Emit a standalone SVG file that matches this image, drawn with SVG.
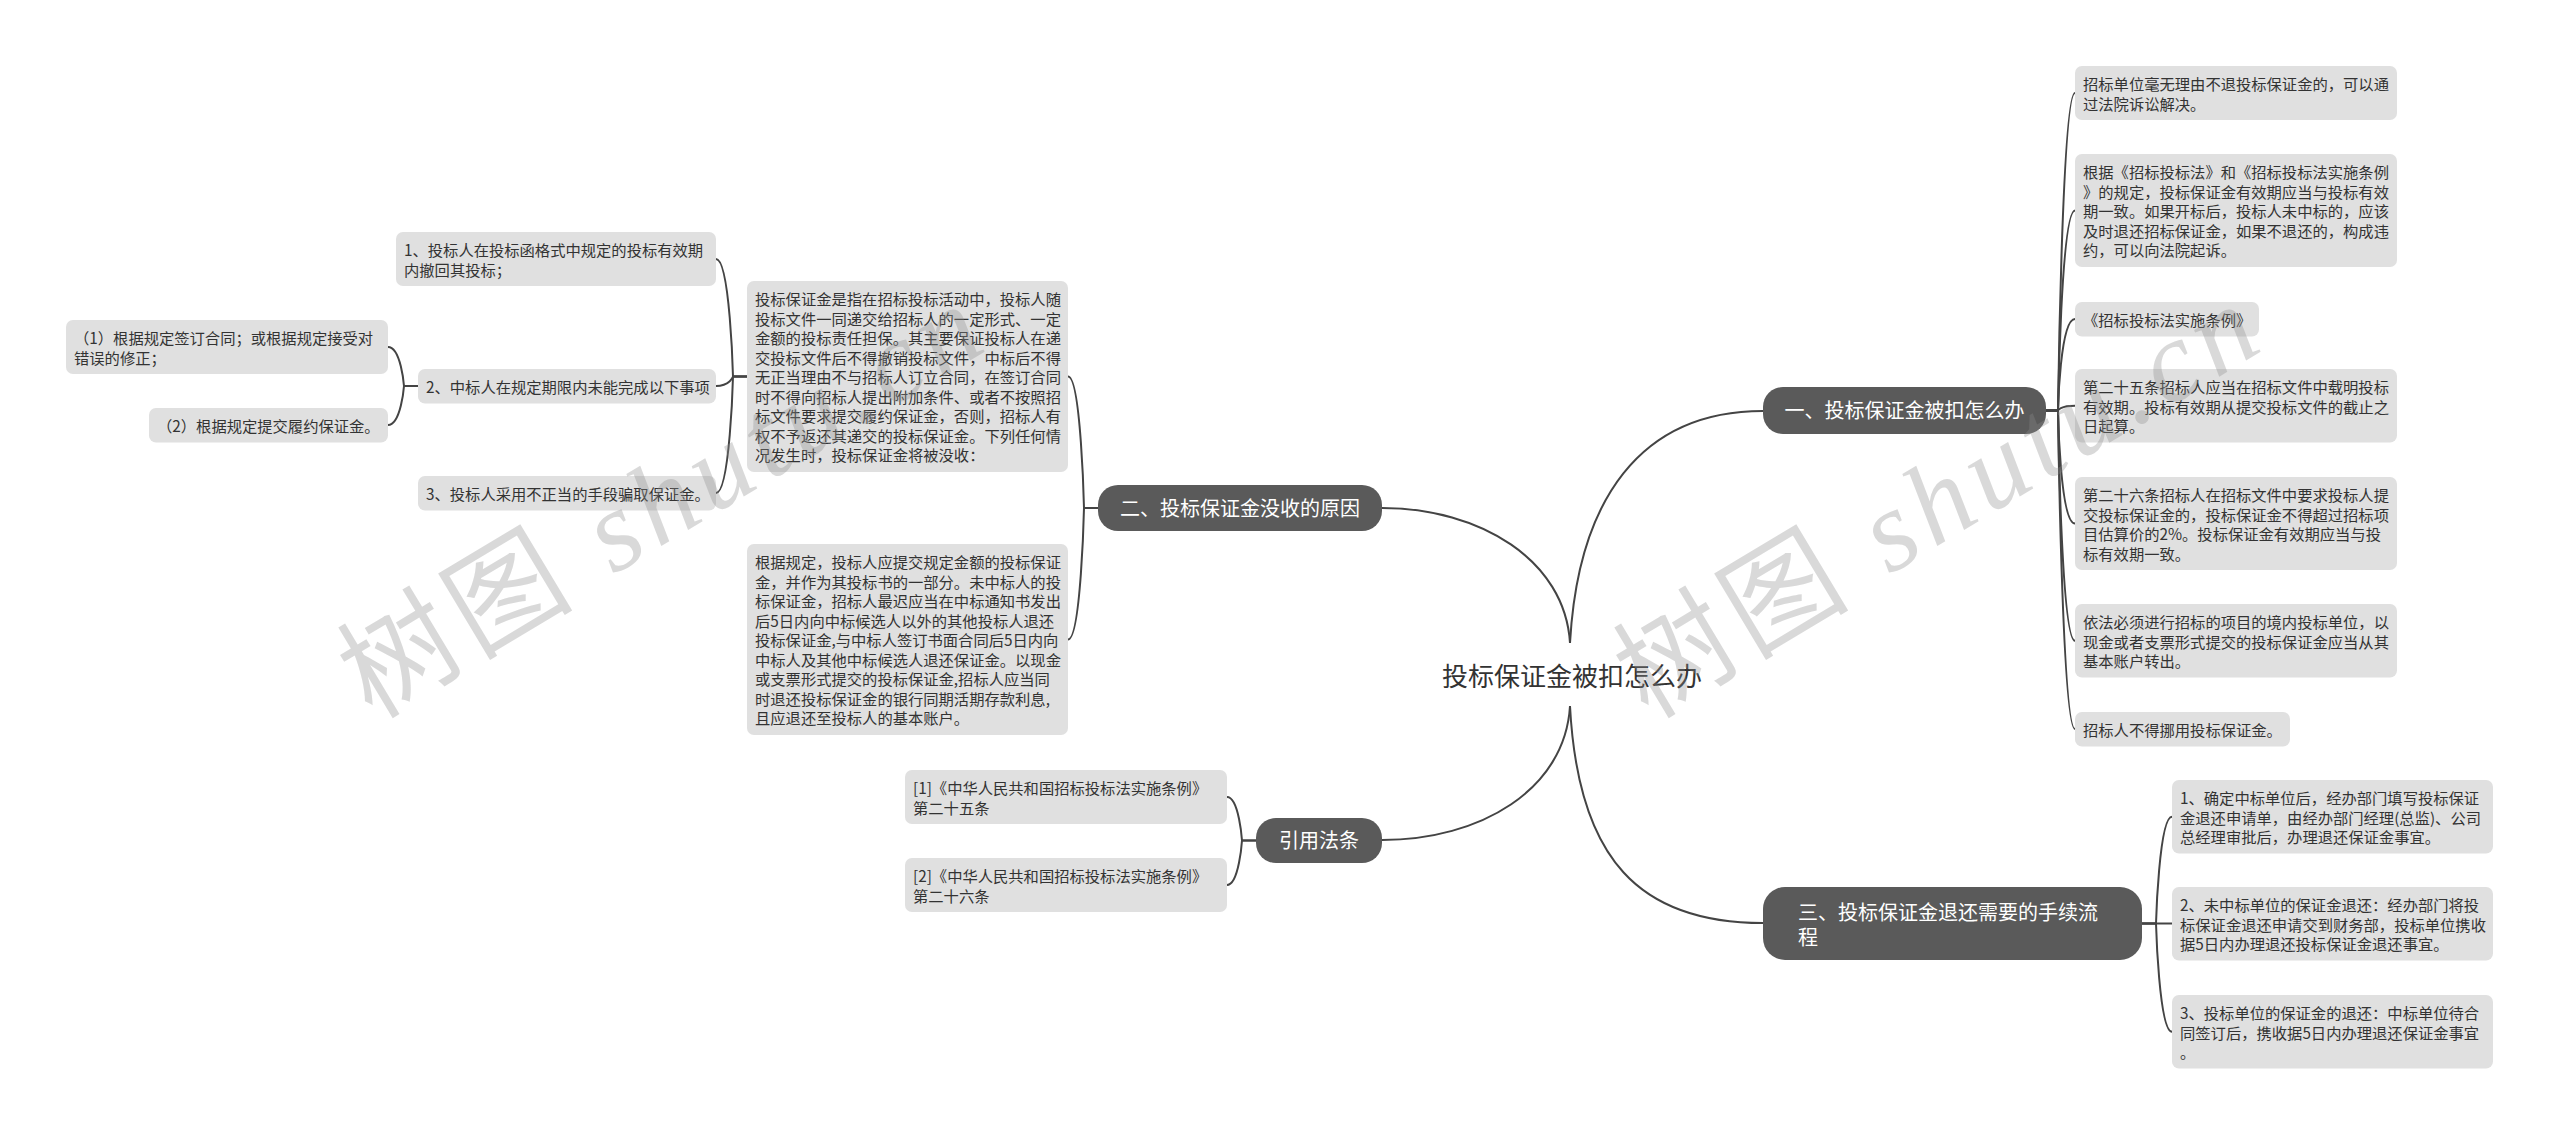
<svg xmlns="http://www.w3.org/2000/svg" width="2560" height="1135" viewBox="0 0 2560 1135">
<style>
.leaf rect{fill:#e0e0e0;}
.leaf text{font-family:"Noto Sans CJK SC","Liberation Sans",sans-serif;font-size:15.3px;fill:#333;}
.main rect{fill:#5a5a5a;}
.main text{font-family:"Noto Sans CJK SC","Liberation Sans",sans-serif;font-size:20px;fill:#fff;}
.root text{font-family:"Noto Sans CJK SC","Liberation Sans",sans-serif;font-size:26px;fill:#333;}
#connectors path{fill:none;stroke:#444;stroke-width:2;}
.wm{font-family:"Liberation Serif","Noto Sans CJK SC",serif;font-size:115px;fill:#8c8c8c;fill-opacity:0.33;}
.wm .lat{font-style:italic;}
</style>
<rect x="0" y="0" width="2560" height="1135" fill="#fff"/>

<g id="connectors">
<path d="M1570,643 C1578,500 1640,411 1763,411"/>
<path d="M1570,643 C1565,560 1480,508 1382,508"/>
<path d="M1570,706 C1565,790 1480,840 1382,840"/>
<path d="M1570,706 C1578,860 1640,923 1763,923"/>
<path d="M2046,410.5 H2058 C2058,410.5 2062,93 2075,93"/>
<path d="M2046,410.5 H2058 C2058,410.5 2061,210.5 2075,210.5"/>
<path d="M2046,410.5 H2058 C2058,410.5 2060,319 2075,319"/>
<path d="M2046,410.5 H2058 C2058,410.5 2060,405.75 2075,405.75"/>
<path d="M2046,410.5 H2058 C2058,410.5 2060,523.5 2075,523.5"/>
<path d="M2046,410.5 H2058 C2058,410.5 2061,640.75 2075,640.75"/>
<path d="M2046,410.5 H2058 C2058,410.5 2062,729 2075,729"/>
<path d="M2142,923.5 H2156 C2156,923.5 2159,816.75 2172,816.75"/>
<path d="M2142,923.5 H2172"/>
<path d="M2142,923.5 H2156 C2156,923.5 2159,1031.75 2172,1031.75"/>
<path d="M1098,508 H1084 C1084,508 1081,376.5 1068,376.5"/>
<path d="M1098,508 H1084 C1084,508 1081,639.5 1068,639.5"/>
<path d="M747,376.5 H733 C733,376.5 730,259 716,259"/>
<path d="M747,376.5 H733 C733,376.5 730,386 716,386"/>
<path d="M747,376.5 H733 C733,376.5 730,493 716,493"/>
<path d="M418,386 H404 C404,386 401,347 388,347"/>
<path d="M418,386 H404 C404,386 401,425 388,425"/>
<path d="M1256,840.5 H1242 C1242,840.5 1239,797 1227,797"/>
<path d="M1256,840.5 H1242 C1242,840.5 1239,885 1227,885"/>
</g>

<g id="root" class="root">
<text x="1572" y="686" text-anchor="middle">投标保证金被扣怎么办</text>
</g>

<g id="branch1" class="main">
<rect x="1763" y="387" width="283" height="47" rx="20"/>
<text x="1904.5" y="418" text-anchor="middle">一、投标保证金被扣怎么办</text>
</g>
<g id="branch2" class="main">
<rect x="1098" y="485" width="284" height="46" rx="20"/>
<text x="1240" y="515.5" text-anchor="middle">二、投标保证金没收的原因</text>
</g>
<g id="branch-cite" class="main">
<rect x="1256" y="818" width="126" height="45" rx="20"/>
<text x="1319" y="848" text-anchor="middle">引用法条</text>
</g>
<g id="branch3" class="main">
<rect x="1763" y="887" width="379" height="73" rx="22"/>
<text x="1798" y="919.5">三、投标保证金退还需要的手续流</text>
<text x="1798" y="945">程</text>
</g>

<g id="r-a" class="leaf">
<rect x="2075" y="66" width="322" height="54" rx="7"/>
<text x="2083" y="90">招标单位毫无理由不退投标保证金的，可以通</text>
<text x="2083" y="109.5">过法院诉讼解决。</text>
</g>
<g id="r-b" class="leaf">
<rect x="2075" y="154" width="322" height="113" rx="7"/>
<text x="2083" y="178">根据《招标投标法》和《招标投标法实施条例</text>
<text x="2083" y="197.5">》的规定，投标保证金有效期应当与投标有效</text>
<text x="2083" y="217">期一致。如果开标后，投标人未中标的，应该</text>
<text x="2083" y="236.5">及时退还招标保证金，如果不退还的，构成违</text>
<text x="2083" y="256">约，可以向法院起诉。</text>
</g>
<g id="r-c" class="leaf">
<rect x="2075" y="302" width="184" height="34.5" rx="7"/>
<text x="2083" y="326">《招标投标法实施条例》</text>
</g>
<g id="r-d" class="leaf">
<rect x="2075" y="369" width="322" height="73.5" rx="7"/>
<text x="2083" y="393">第二十五条招标人应当在招标文件中载明投标</text>
<text x="2083" y="412.5">有效期。投标有效期从提交投标文件的截止之</text>
<text x="2083" y="432">日起算。</text>
</g>
<g id="r-e" class="leaf">
<rect x="2075" y="477" width="322" height="93" rx="7"/>
<text x="2083" y="501">第二十六条招标人在招标文件中要求投标人提</text>
<text x="2083" y="520.5">交投标保证金的，投标保证金不得超过招标项</text>
<text x="2083" y="540">目估算价的2%。投标保证金有效期应当与投</text>
<text x="2083" y="559.5">标有效期一致。</text>
</g>
<g id="r-f" class="leaf">
<rect x="2075" y="604" width="322" height="73.5" rx="7"/>
<text x="2083" y="628">依法必须进行招标的项目的境内投标单位，以</text>
<text x="2083" y="647.5">现金或者支票形式提交的投标保证金应当从其</text>
<text x="2083" y="667">基本账户转出。</text>
</g>
<g id="r-g" class="leaf">
<rect x="2075" y="712" width="215" height="34.5" rx="7"/>
<text x="2083" y="736">招标人不得挪用投标保证金。</text>
</g>

<g id="s-1" class="leaf">
<rect x="2172" y="780" width="321" height="73.5" rx="7"/>
<text x="2180" y="804">1、确定中标单位后，经办部门填写投标保证</text>
<text x="2180" y="823.5">金退还申请单，由经办部门经理(总监)、公司</text>
<text x="2180" y="843">总经理审批后，办理退还保证金事宜。</text>
</g>
<g id="s-2" class="leaf">
<rect x="2172" y="887" width="321" height="73.5" rx="7"/>
<text x="2180" y="911">2、未中标单位的保证金退还：经办部门将投</text>
<text x="2180" y="930.5">标保证金退还申请交到财务部，投标单位携收</text>
<text x="2180" y="950">据5日内办理退还投标保证金退还事宜。</text>
</g>
<g id="s-3" class="leaf">
<rect x="2172" y="995" width="321" height="73.5" rx="7"/>
<text x="2180" y="1019">3、投标单位的保证金的退还：中标单位待合</text>
<text x="2180" y="1038.5">同签订后，携收据5日内办理退还保证金事宜</text>
<text x="2180" y="1058">。</text>
</g>

<g id="m-1" class="leaf">
<rect x="747" y="281" width="321" height="191" rx="7"/>
<text x="755" y="305">投标保证金是指在招标投标活动中，投标人随</text>
<text x="755" y="324.5">投标文件一同递交给招标人的一定形式、一定</text>
<text x="755" y="344">金额的投标责任担保。其主要保证投标人在递</text>
<text x="755" y="363.5">交投标文件后不得撤销投标文件，中标后不得</text>
<text x="755" y="383">无正当理由不与招标人订立合同，在签订合同</text>
<text x="755" y="402.5">时不得向招标人提出附加条件、或者不按照招</text>
<text x="755" y="422">标文件要求提交履约保证金，否则，招标人有</text>
<text x="755" y="441.5">权不予返还其递交的投标保证金。下列任何情</text>
<text x="755" y="461">况发生时，投标保证金将被没收：</text>
</g>
<g id="m-2" class="leaf">
<rect x="747" y="544" width="321" height="191" rx="7"/>
<text x="755" y="568">根据规定，投标人应提交规定金额的投标保证</text>
<text x="755" y="587.5">金，并作为其投标书的一部分。未中标人的投</text>
<text x="755" y="607">标保证金，招标人最迟应当在中标通知书发出</text>
<text x="755" y="626.5">后5日内向中标候选人以外的其他投标人退还</text>
<text x="755" y="646">投标保证金,与中标人签订书面合同后5日内向</text>
<text x="755" y="665.5">中标人及其他中标候选人退还保证金。以现金</text>
<text x="755" y="685">或支票形式提交的投标保证金,招标人应当同</text>
<text x="755" y="704.5">时退还投标保证金的银行同期活期存款利息,</text>
<text x="755" y="724">且应退还至投标人的基本账户。</text>
</g>
<g id="l-1" class="leaf">
<rect x="396" y="232" width="320" height="54" rx="7"/>
<text x="404" y="256">1、投标人在投标函格式中规定的投标有效期</text>
<text x="404" y="275.5">内撤回其投标；</text>
</g>
<g id="l-2" class="leaf">
<rect x="418" y="369" width="298" height="34.5" rx="7"/>
<text x="426" y="393">2、中标人在规定期限内未能完成以下事项</text>
</g>
<g id="l-3" class="leaf">
<rect x="418" y="476" width="298" height="34.5" rx="7"/>
<text x="426" y="500">3、投标人采用不正当的手段骗取保证金。</text>
</g>
<g id="l-2a" class="leaf">
<rect x="66" y="320" width="322" height="54" rx="7"/>
<text x="74" y="344">（1）根据规定签订合同；或根据规定接受对</text>
<text x="74" y="363.5">错误的修正；</text>
</g>
<g id="l-2b" class="leaf">
<rect x="149" y="408" width="239" height="34.5" rx="7"/>
<text x="157" y="432">（2）根据规定提交履约保证金。</text>
</g>

<g id="c-1" class="leaf">
<rect x="905" y="770" width="322" height="54" rx="7"/>
<text x="913" y="794">[1]《中华人民共和国招标投标法实施条例》</text>
<text x="913" y="813.5">第二十五条</text>
</g>
<g id="c-2" class="leaf">
<rect x="905" y="858" width="322" height="54" rx="7"/>
<text x="913" y="882">[2]《中华人民共和国招标投标法实施条例》</text>
<text x="913" y="901.5">第二十六条</text>
</g>

<g id="watermarks">
<text class="wm" transform="translate(372,720) rotate(-31)" textLength="720" lengthAdjust="spacing">树图 <tspan class="lat">shutu.cn</tspan></text>
<text class="wm" transform="translate(1648,720) rotate(-31)" textLength="720" lengthAdjust="spacing">树图 <tspan class="lat">shutu.cn</tspan></text>
</g>
</svg>
